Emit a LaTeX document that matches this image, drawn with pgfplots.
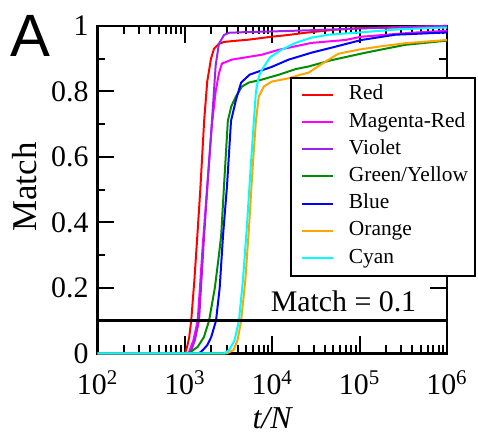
\documentclass[border=0pt]{standalone}
\usepackage{fontspec}
\setmainfont{Liberation Serif}
\newfontfamily\sansA{Liberation Sans}
\usepackage{pgfplots}
\pgfplotsset{compat=1.18}
\definecolor{cRed}{RGB}{255,0,0}
\definecolor{cMag}{RGB}{255,0,255}
\definecolor{cVio}{RGB}{160,32,240}
\definecolor{cGre}{RGB}{0,140,0}
\definecolor{cBlu}{RGB}{0,0,255}
\definecolor{cOra}{RGB}{255,165,0}
\definecolor{cCya}{RGB}{0,255,255}
\begin{document}
\begin{tikzpicture}
\begin{axis}[
  scale only axis,
  width=175.5pt, height=164.5pt,
  xmode=log, log basis x=10,
  xmin=100, xmax=1000000, ymin=0, ymax=1,
  clip=false,
  axis line style={line width=1.3pt},
  tick style={line width=1pt, black},
  major tick length=8.5pt, minor tick length=4pt,
  ytick={0,0.2,0.4,0.6,0.8,1},
  minor ytick={0.1,0.3,0.5,0.7,0.9},
  /pgf/number format/assume math mode=true,
  tick label style={font=\fontsize{15}{18}\selectfont},
  yticklabel style={xshift=-1pt},
  xticklabel={\pgfmathparse{int(round(\tick))}10\textsuperscript{\pgfmathresult}},
  xticklabel style={yshift=-5pt},
  xlabel={\textit{t/N}},
  xlabel style={at={(rel axis cs:0.5014,-0.1976)}, anchor=center, font=\fontsize{16}{19}\selectfont},
  ylabel={Match},
  ylabel style={at={(rel axis cs:-0.208,0.508)}, anchor=center, font=\fontsize{17.5}{20}\selectfont},
  every axis plot/.append style={line width=1pt},
  legend style={at={(rel axis cs:0.553,0.842)}, anchor=north west, draw=none, fill=none,
    inner xsep=5pt, inner ysep=3.5pt, row sep=3.65pt,
    font=\fontsize{10.75}{13}\selectfont,
    nodes={inner sep=0pt, text height=7.5pt, text depth=2.5pt},
    /tikz/every odd column/.append style={column sep=7.5pt}},
  legend cell align=left,
  legend image code/.code={\draw[#1] (0pt,0pt) -- (15.5pt,0pt);},
]
\addplot[cRed] coordinates {(100,0)(1000,0)(1060,0.02)(1120,0.05)(1180,0.10)(1280,0.22)(1380,0.35)(1500,0.50)(1660,0.71)(1800,0.83)(1990,0.90)(2150,0.93)(2450,0.945)(2800,0.951)(4000,0.955)(5400,0.958)(9900,0.967)(15000,0.972)(24000,0.979)(50000,0.988)(100000,0.993)(300000,0.996)(1000000,1.0)};
\addlegendentry{Red}
\addplot[cMag] coordinates {(100,0)(1100,0)(1250,0.04)(1400,0.10)(1600,0.33)(1850,0.55)(2040,0.70)(2250,0.80)(2450,0.855)(2650,0.885)(3450,0.897)(7600,0.912)(11900,0.927)(28000,0.948)(69000,0.957)(105000,0.967)(390000,0.979)(1000000,0.985)};
\addlegendentry{Magenta-Red}
\addplot[cVio] coordinates {(100,0)(1150,0)(1300,0.04)(1450,0.10)(1660,0.36)(1850,0.55)(2040,0.71)(2250,0.88)(2450,0.945)(2800,0.972)(3200,0.979)(5000,0.981)(10000,0.983)(30000,0.987)(100000,0.992)(300000,0.996)(1000000,1.0)};
\addlegendentry{Violet}
\addplot[cGre] coordinates {(100,0)(1100,0)(1400,0.02)(1650,0.05)(1890,0.10)(2200,0.20)(2450,0.30)(2600,0.36)(2800,0.51)(3100,0.71)(3400,0.755)(3850,0.785)(4500,0.815)(5400,0.827)(7600,0.836)(11900,0.851)(18500,0.868)(26000,0.876)(47000,0.895)(116000,0.918)(330000,0.942)(1000000,0.955)};
\addlegendentry{Green/Yellow}
\addplot[cBlu] coordinates {(100,0)(1450,0)(1600,0.01)(1800,0.025)(2000,0.05)(2270,0.10)(2500,0.20)(2730,0.36)(3030,0.51)(3370,0.71)(3850,0.775)(4400,0.827)(5500,0.851)(9900,0.875)(15400,0.897)(28000,0.918)(47000,0.933)(105000,0.957)(256000,0.973)(1000000,0.98)};
\addlegendentry{Blue}
\addplot[cOra] coordinates {(100,0)(3000,0)(3600,0.01)(4000,0.04)(4400,0.10)(4900,0.22)(5400,0.38)(6000,0.58)(6500,0.71)(7000,0.784)(8000,0.815)(9900,0.83)(15400,0.84)(21700,0.852)(26000,0.857)(35000,0.88)(57000,0.915)(100000,0.928)(180000,0.938)(330000,0.947)(1000000,0.957)};
\addlegendentry{Orange}
\addplot[cCya] coordinates {(100,0)(2800,0)(3200,0.01)(3700,0.04)(4150,0.10)(4600,0.22)(5100,0.38)(5600,0.55)(6150,0.71)(6500,0.80)(7000,0.845)(7600,0.866)(9500,0.905)(12800,0.927)(18500,0.948)(28000,0.964)(44000,0.973)(89000,0.979)(300000,0.99)(1000000,0.995)};
\addlegendentry{Cyan}
\addplot[black, line width=1.2pt, forget plot] coordinates {(100,0.1)(1000000,0.1)};
\draw[line width=1.1pt, fill=white] (rel axis cs:0.553,0.842) rectangle (rel axis cs:1.08,0.237);
\node[anchor=base, font=\fontsize{15}{18}\selectfont] at (rel axis cs:0.7037,0.1277) {Match = 0.1};
\node[anchor=base, font=\sansA\fontsize{30}{30}\selectfont] at (rel axis cs:-0.192,0.906) {A};
\path (rel axis cs:-0.2792,-0.2401) rectangle (rel axis cs:1.0826,1.0790);
\end{axis}
\end{tikzpicture}
\end{document}
